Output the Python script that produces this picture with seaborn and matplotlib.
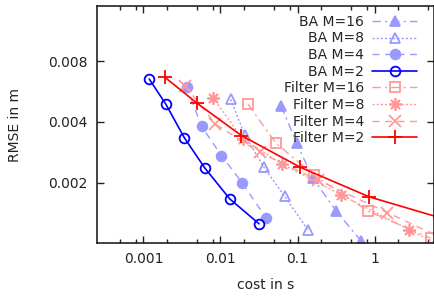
import numpy as np
import pandas as pd
import matplotlib
matplotlib.use("Agg")
import matplotlib.pyplot as plt
import matplotlib.ticker as mticker
import seaborn as sns

# --- Data ---
ba16_cost = [0.0614, 0.0977, 0.157, 0.316, 0.664]
ba16_rmse = [0.00479, 0.00313, 0.00211, 0.00145, 0.00103]
ba8_cost = [0.0136, 0.0206, 0.0362, 0.0678, 0.1355]
ba8_rmse = [0.00517, 0.00344, 0.00240, 0.00171, 0.00117]
ba4_cost = [0.00364, 0.00568, 0.0103, 0.0192, 0.0393]
ba4_rmse = [0.00597, 0.00380, 0.00272, 0.00199, 0.00133]
ba2_cost = [0.00119, 0.00195, 0.00339, 0.00627, 0.0132, 0.0316]
ba2_rmse = [0.00652, 0.00490, 0.00334, 0.00236, 0.00166, 0.00125]

f16_cost = [0.0228, 0.0518, 0.165, 0.832, 5.32]
f16_rmse = [0.00489, 0.00315, 0.00217, 0.00144, 0.00106]
f8_cost = [0.0080, 0.0194, 0.0632, 0.366, 2.79, 22.0]
f8_rmse = [0.00527, 0.00329, 0.00247, 0.00174, 0.00117, 0.00078]
f4_cost = [0.00346, 0.00857, 0.0322, 0.182, 1.46, 11.7]
f4_rmse = [0.00605, 0.00390, 0.00282, 0.00206, 0.00142, 0.00098]
f2_cost = [0.00191, 0.00499, 0.0187, 0.109, 0.849, 7.0]
f2_rmse = [0.00664, 0.00494, 0.00342, 0.00238, 0.00170, 0.00134]

labels = ["BA M=16", "BA M=8", "BA M=4", "BA M=2",
          "Filter M=16", "Filter M=8", "Filter M=4", "Filter M=2"]
costs = [ba16_cost, ba8_cost, ba4_cost, ba2_cost, f16_cost, f8_cost, f4_cost, f2_cost]
rmses = [ba16_rmse, ba8_rmse, ba4_rmse, ba2_rmse, f16_rmse, f8_rmse, f4_rmse, f2_rmse]

x_ticks = [0.001, 0.01, 0.1, 1]
x_ticklabels = ["0.001", "0.01", "0.1", "1"]
y_ticks = [0.002, 0.004, 0.008]
y_ticklabels = ["0.002", "0.004", "0.008"]

# --- Styles ---
LBLUE = "#9999ff"
LRED = "#ff9999"
asterisk = (8, 2, 0)
styles = [
    dict(color=LBLUE, dashes=(6, 3, 1.5, 3), marker="^", mfc=LBLUE, ms=7.5, lw=1.0),
    dict(color=LBLUE, dashes=(1.5, 1.5), marker="^", mfc="none", ms=7.5, lw=1.0),
    dict(color=LBLUE, dashes=(5, 4), marker="o", mfc=LBLUE, ms=7, lw=1.0),
    dict(color="#0000ff", linestyle="-", marker="o", mfc="none", ms=7, lw=1.2),
    dict(color=LRED, dashes=(6, 3, 1.5, 3), marker="s", mfc="none", ms=7, lw=1.0),
    dict(color=LRED, dashes=(1.5, 1.5), marker=asterisk, mfc="none", ms=9, lw=1.0),
    dict(color=LRED, dashes=(5, 4), marker="x", mfc="none", ms=8, lw=1.0),
    dict(color="#ff0000", linestyle="-", marker="+", mfc="none", ms=9.5, lw=1.2),
]

sns.set_theme(style="ticks")
plt.rcParams['font.family'] = ['DejaVu Sans']

fig = plt.figure(figsize=(4.35, 2.98), dpi=100)
ax = fig.add_axes([97 / 435, 1 - 243.3 / 298, 337 / 435, 237.3 / 298])

for lab, c, r, st in zip(labels, costs, rmses, styles):
    st = dict(st)
    color = st.pop("color")
    sns.lineplot(x=c, y=r, ax=ax, label=lab, color=color, mec=color,
                 mew=1.3, sort=False, estimator=None, **st)

ax.set_xscale("log")
ax.set_yscale("log")
ax.set_xlim(0.00025, 5.9)
ax.set_ylim(0.001, 0.015)

ax.xaxis.set_major_locator(mticker.FixedLocator(x_ticks))
ax.xaxis.set_major_formatter(mticker.FixedFormatter(x_ticklabels))
ax.xaxis.set_minor_locator(mticker.LogLocator(base=10, subs=[2, 5, 8]))
ax.xaxis.set_minor_formatter(mticker.NullFormatter())
ax.yaxis.set_major_locator(mticker.FixedLocator(y_ticks))
ax.yaxis.set_major_formatter(mticker.FixedFormatter(y_ticklabels))
ax.yaxis.set_minor_locator(mticker.NullLocator())

ax.tick_params(which="both", direction="in", top=True, right=True,
               color="#222222", labelsize=10, labelcolor="#222222")
ax.tick_params(which="major", length=5, width=1)
ax.tick_params(which="minor", length=3, width=1)
ax.tick_params(axis="y", pad=7)
ax.tick_params(axis="x", pad=6)
for s in ax.spines.values():
    s.set_color("#222222")
    s.set_linewidth(1.2)
    s.set_visible(True)

ax.set_xlabel("cost in s", fontsize=10, color="#222222")
ax.set_ylabel("RMSE in m", fontsize=10, color="#222222")
ax.xaxis.set_label_coords(0.5, -0.145)
ax.yaxis.set_label_coords(-0.222, 0.5)

leg = ax.legend(loc="upper right", bbox_to_anchor=(0.949, 0.963), frameon=False,
                markerfirst=False, fontsize=10, handlelength=3.2,
                labelspacing=0.19, handletextpad=0.6, borderaxespad=0.0,
                borderpad=0.0)

fig.savefig("out.png", dpi=100)
